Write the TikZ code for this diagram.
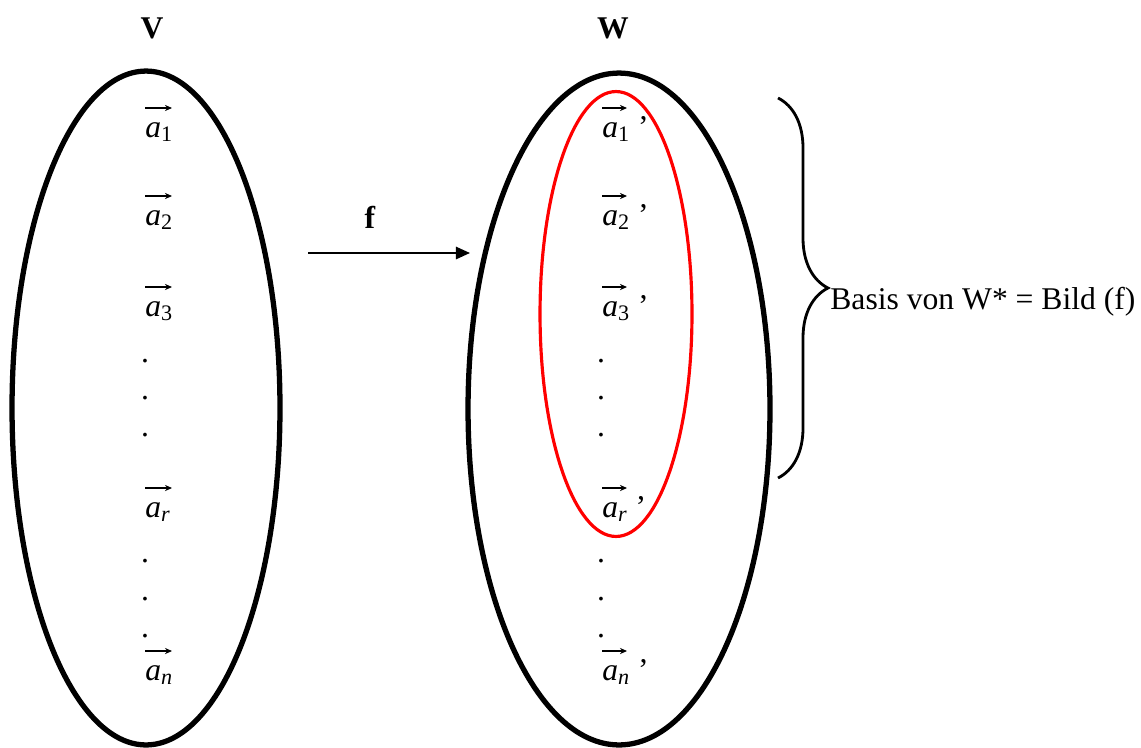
\documentclass[tikz,border=0pt]{standalone}
\usepackage{fontspec}
\setmainfont{Liberation Serif}
\usetikzlibrary{arrows.meta,positioning,shapes.geometric,decorations.pathreplacing}
\newcommand{\bigfont}{\fontsize{18}{21}\selectfont}
\newcommand{\va}[1]{\textit{a}\textsubscript{#1}}
\tikzset{
  space/.style={ellipse, draw=black, line width=3pt, inner sep=0pt},
  bildset/.style={ellipse, draw=red, line width=1.8pt, inner sep=0pt},
  title/.style={font=\bigfont\bfseries},
  vec/.style={font=\bigfont, inner sep=0pt, anchor=base west},
  dot/.style={font=\bigfont, inner sep=0pt, anchor=base},
  vecarrow/.style={-{Stealth[length=4pt,width=3.5pt]}, line width=0.7pt},
  mapto/.style={-{Triangle[length=8pt,width=7pt]}, line width=1.1pt},
  curly/.style={decorate, decoration={brace, amplitude=1cm}, line width=1.6pt}
}
\begin{document}
\begin{tikzpicture}[x=0.02cm, y=-0.02cm]
 \useasboundingbox (0,0) rectangle (1141,747);
 % the two spaces
 \node[space, minimum width=5.36cm, minimum height=13.48cm] (V) at (146,408) {};
 \node[space, minimum width=6.04cm, minimum height=13.44cm] (W) at (619,409) {};
 \node[bildset, minimum width=3.04cm, minimum height=8.9cm] (B) at (616,314) {};
 \node[title] (Vl) at (152,28) {V};
 \node[title] (Wl) at (613,28) {W};
 % basis vectors
 \foreach \b/\s/\n in {137/1/1, 225/2/2, 316/3/3, 517/\textit{r}/r, 680/\textit{n}/n}{
   \node[vec] (v\n) at (145,\b) {\va{\s}};
   \node[vec] (w\n) at (602,\b) {\va{\s}~’};
   \draw[vecarrow] ([yshift=0.58cm]v\n.base west) -- ++(27,0);
   \draw[vecarrow] ([yshift=0.58cm]w\n.base west) -- ++(25,0);
 }
 \foreach \y in {362,399,436,562,600,637}{
   \node[dot] at (145,\y) {.};
   \node[dot] at (601,\y) {.};
 }
 % the map f
 \coordinate (fs) at (308,253);
 \coordinate (fe) at (470,253);
 \draw[mapto] (fs) -- (fe);
 \node[title] (f) at (370,217) {f};
 % brace round the image basis
 \coordinate (btop) at (778,98);
 \coordinate (bbot) at (778,478);
 \draw[curly] (btop) -- (bbot);
 \node[font=\bigfont, anchor=west, inner sep=0pt] (basis) at (830,302) {Basis von W* = Bild (f)};
\end{tikzpicture}
\end{document}
